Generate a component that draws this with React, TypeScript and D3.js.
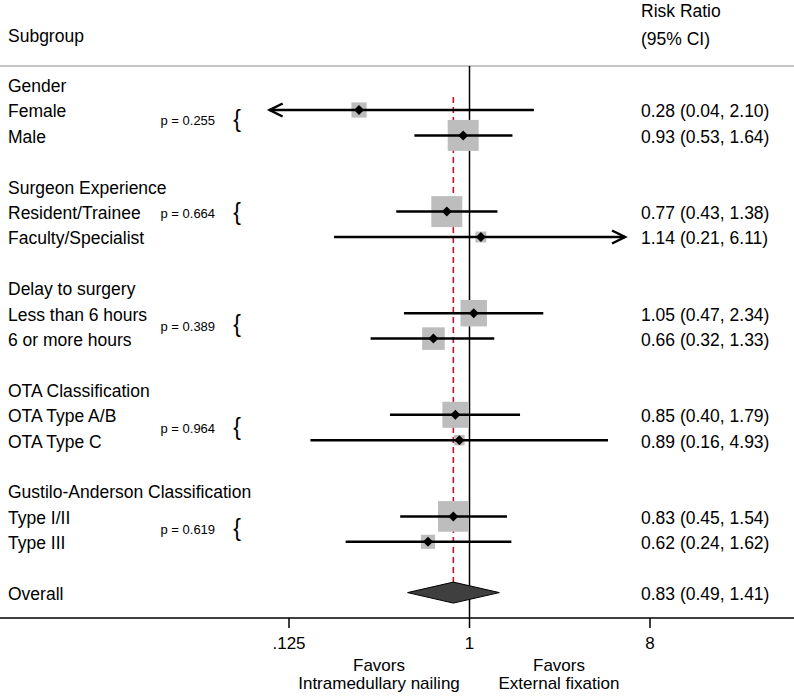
import React from "react";
import * as d3 from "d3";

const groupNames = [
  "Gender",
  "Surgeon Experience",
  "Delay to surgery",
  "OTA Classification",
  "Gustilo-Anderson Classification",
];
const subgroupNames = [
  "Female",
  "Male",
  "Resident/Trainee",
  "Faculty/Specialist",
  "Less than 6 hours",
  "6 or more hours",
  "OTA Type A/B",
  "OTA Type C",
  "Type I/II",
  "Type III",
];
const riskRatio = [0.28, 0.93, 0.77, 1.14, 1.05, 0.66, 0.85, 0.89, 0.83, 0.62];
const ciLow = [0.04, 0.53, 0.43, 0.21, 0.47, 0.32, 0.4, 0.16, 0.45, 0.24];
const ciHigh = [2.1, 1.64, 1.38, 6.11, 2.34, 1.33, 1.79, 4.93, 1.54, 1.62];
const weights = [23, 96, 96, 12, 70, 51, 68, 11, 94, 20];
const pValues = ["0.255", "0.664", "0.389", "0.964", "0.619"];
const overallValues = [0.83, 0.49, 1.41];
const tickValues = [0.125, 1, 8];
const tickLabels = [".125", "1", "8"];
const clipRange = [0.1, 6];

const W = 794;
const H = 697;
const FONT = "'Liberation Sans', Arial, Helvetica, sans-serif";

const x = d3.scaleLog().base(2).domain([0.125, 8]).range([289, 650]);
const rowY = (i: number) => 84.6 + 25.4 * i;
const side = d3.scaleSqrt().domain([0, 100]).range([0, 31.6]);
const pOffset = [-2, -11, 0, 1, 0];

const fmt = (v: number) => v.toFixed(2);

export default function App() {
  const rows: { label: string; y: number; idx: number }[] = [];
  groupNames.forEach((g, gi) => {
    rows.push({ label: g, y: rowY(gi * 4), idx: -1 });
    rows.push({ label: subgroupNames[gi * 2], y: rowY(gi * 4 + 1), idx: gi * 2 });
    rows.push({ label: subgroupNames[gi * 2 + 1], y: rowY(gi * 4 + 2), idx: gi * 2 + 1 });
  });
  const overallY = rowY(20);
  const axisY = 618;
  const [oRR, oLo, oHi] = overallValues;
  const diamondPath = `M${x(oLo)},${overallY} L${x(oRR)},${overallY - 10.5} L${x(oHi)},${overallY} L${x(oRR)},${overallY + 10.5} Z`;

  return (
    <svg
      width={W}
      height={H}
      style={{ position: "absolute", left: 0, top: 0, background: "#fff" }}
      fontFamily={FONT}
    >
      {/* headers */}
      <text x={8} y={41.5} fontSize={17.5} fill="#000">Subgroup</text>
      <text x={641} y={16.7} fontSize={17.5} fill="#000">Risk Ratio</text>
      <text x={641} y={45} fontSize={17.5} fill="#000">(95% CI)</text>
      <line x1={0} x2={W} y1={66} y2={66} stroke="#c6c6c6" strokeWidth={2} />

      {/* vertical null line */}
      <line x1={x(1)} x2={x(1)} y1={66} y2={axisY} stroke="#000" strokeWidth={1.5} />
      {/* overall dashed line */}
      <line
        x1={x(oRR)}
        x2={x(oRR)}
        y1={97}
        y2={606}
        stroke="#c4142c"
        strokeWidth={1.6}
        strokeDasharray="6,4"
      />

      {/* labels */}
      {rows.map((r, i) => (
        <text key={"l" + i} x={8} y={r.y + 7.3} fontSize={17.5} fill="#000">
          {r.label}
        </text>
      ))}

      {/* p values and braces */}
      {groupNames.map((g, gi) => {
        const cy = (rowY(gi * 4 + 1) + rowY(gi * 4 + 2)) / 2 + pOffset[gi];
        return (
          <g key={"p" + gi}>
            <text x={160.5} y={cy + 4.6} fontSize={13} fill="#000">
              {`p = ${pValues[gi]}`}
            </text>
            <text x={237} y={cy + 6.5} fontSize={23} textAnchor="middle" fill="#000">
              {"{"}
            </text>
          </g>
        );
      })}

      {/* studies */}
      {rows
        .filter((r) => r.idx >= 0)
        .map((r) => {
          const i = r.idx;
          const s = side(weights[i]);
          const lo = Math.max(ciLow[i], clipRange[0]);
          const hi = Math.min(ciHigh[i], clipRange[1]);
          const xl = x(lo);
          const xh = x(hi);
          const xc = x(riskRatio[i]);
          const y = r.y;
          return (
            <g key={"s" + i}>
              <rect x={xc - s / 2} y={y - s / 2} width={s} height={s} fill="#bdbdbd" />
              <line x1={xl} x2={xh} y1={y} y2={y} stroke="#000" strokeWidth={2.5} />
              {ciLow[i] < clipRange[0] && (
                <path
                  d={`M${xl + 13},${y - 6.5} L${xl},${y} L${xl + 13},${y + 6.5}`}
                  fill="none"
                  stroke="#000"
                  strokeWidth={2.5}
                />
              )}
              {ciHigh[i] > clipRange[1] && (
                <path
                  d={`M${xh - 13},${y - 6.5} L${xh},${y} L${xh - 13},${y + 6.5}`}
                  fill="none"
                  stroke="#000"
                  strokeWidth={2.5}
                />
              )}
              <path
                d={`M${xc - 5},${y} L${xc},${y - 5} L${xc + 5},${y} L${xc},${y + 5} Z`}
                fill="#000"
              />
              <text x={641} y={y + 7.3} fontSize={17.5} fill="#000">
                {`${fmt(riskRatio[i])} (${fmt(ciLow[i])}, ${fmt(ciHigh[i])})`}
              </text>
            </g>
          );
        })}

      {/* overall */}
      <text x={8} y={overallY + 7.3} fontSize={17.5} fill="#000">Overall</text>
      <path d={diamondPath} fill="#3f3f3f" stroke="#000" strokeWidth={1} />
      <text x={641} y={overallY + 7.3} fontSize={17.5} fill="#000">
        {`${fmt(oRR)} (${fmt(oLo)}, ${fmt(oHi)})`}
      </text>

      {/* axis */}
      <line x1={0} x2={W} y1={axisY} y2={axisY} stroke="#000" strokeWidth={1.5} />
      {tickValues.map((t, i) => (
        <g key={"t" + i}>
          <line x1={x(t)} x2={x(t)} y1={axisY} y2={axisY + 10} stroke="#000" strokeWidth={1.5} />
          <text x={x(t)} y={648.7} fontSize={17} textAnchor="middle" fill="#000">
            {tickLabels[i]}
          </text>
        </g>
      ))}
      <text x={379} y={670.5} fontSize={17} textAnchor="middle" fill="#000">Favors</text>
      <text x={379} y={689} fontSize={17} textAnchor="middle" fill="#000">Intramedullary nailing</text>
      <text x={559} y={670.5} fontSize={17} textAnchor="middle" fill="#000">Favors</text>
      <text x={559} y={689} fontSize={17} textAnchor="middle" fill="#000">External fixation</text>
    </svg>
  );
}
